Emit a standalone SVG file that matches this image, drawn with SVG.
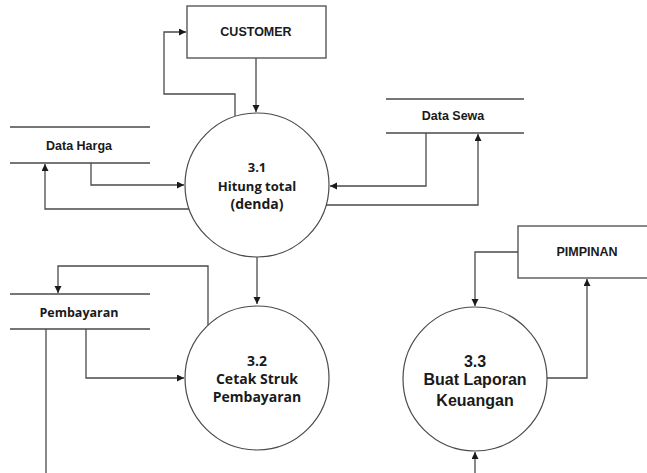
<svg xmlns="http://www.w3.org/2000/svg" width="647" height="473" viewBox="0 0 647 473">
<style>
.ln{fill:none;stroke:#4a4a4a;stroke-width:1.3}
.box{fill:#fff;stroke:#4a4a4a;stroke-width:1.3}
.proc{fill:#fff;stroke:#4a4a4a;stroke-width:1.2}
.ar{font-family:"Liberation Sans",Arial,sans-serif;font-weight:bold;fill:#1a1a1a;text-anchor:middle}
.ca{font-family:"Open Sans","Noto Sans",sans-serif;font-weight:bold;fill:#1a1a1a;text-anchor:middle}
</style>
<defs>
<marker id="ah" markerUnits="userSpaceOnUse" markerWidth="8" markerHeight="8" refX="7" refY="3.5" orient="auto">
<path d="M0,0 L7,3.5 L0,7 z" fill="#1a1a1a"/>
</marker>
</defs>
<rect width="647" height="473" fill="#fff"/>
<g id="connectors">
<path class="ln" d="M235,116 V94 H164 V32 H186" marker-end="url(#ah)"/>
<path class="ln" d="M256,58 V112" marker-end="url(#ah)"/>
<path class="ln" d="M91,163 V185 H184" marker-end="url(#ah)"/>
<path class="ln" d="M189,209 H45 V164" marker-end="url(#ah)"/>
<path class="ln" d="M426,133 V186 H330" marker-end="url(#ah)"/>
<path class="ln" d="M326,205 H478 V134" marker-end="url(#ah)"/>
<path class="ln" d="M257,257 V304" marker-end="url(#ah)"/>
<path class="ln" d="M208,325 V266 H58 V293" marker-end="url(#ah)"/>
<path class="ln" d="M86,329 V378 H184" marker-end="url(#ah)"/>
<path class="ln" d="M46,329 V473"/>
<path class="ln" d="M518,252 H475 V306" marker-end="url(#ah)"/>
<path class="ln" d="M547,378 H587 V279" marker-end="url(#ah)"/>
<path class="ln" d="M475,473 V452" marker-end="url(#ah)"/>
</g>
<g id="customer">
<rect class="box" x="187" y="6" width="139" height="52"/>
<text class="ar" x="256" y="36" font-size="12.5">CUSTOMER</text>
</g>
<g id="pimpinan">
<rect class="box" x="518" y="226" width="140" height="52"/>
<text class="ar" x="587" y="256" font-size="12.5">PIMPINAN</text>
</g>
<g id="data-harga">
<path class="ln" d="M10,127 H150 M10,163 H150"/>
<text class="ar" x="79" y="150" font-size="12.5">Data Harga</text>
</g>
<g id="data-sewa">
<path class="ln" d="M386,99 H524 M386,133 H524"/>
<text class="ar" x="453" y="120" font-size="12.5">Data Sewa</text>
</g>
<g id="pembayaran">
<path class="ln" d="M10,294 H150 M10,329 H150"/>
<text class="ca" x="79" y="317" font-size="12.5">Pembayaran</text>
</g>
<g id="p31">
<circle class="proc" cx="257" cy="185" r="72"/>
<text class="ca" x="257" y="172" font-size="13">3.1</text>
<text class="ca" x="257" y="191" font-size="13">Hitung total</text>
<text class="ca" x="257" y="209" font-size="14">(denda)</text>
</g>
<g id="p32">
<circle class="proc" cx="257" cy="378" r="72"/>
<text class="ca" x="257" y="366" font-size="14">3.2</text>
<text class="ca" x="257" y="384" font-size="14">Cetak Struk</text>
<text class="ca" x="257" y="402" font-size="14">Pembayaran</text>
</g>
<g id="p33">
<circle class="proc" cx="475" cy="379" r="72"/>
<text class="ar" x="475" y="367" font-size="16">3.3</text>
<text class="ar" x="475" y="385" font-size="16">Buat Laporan</text>
<text class="ar" x="475" y="406" font-size="16">Keuangan</text>
</g>
</svg>
